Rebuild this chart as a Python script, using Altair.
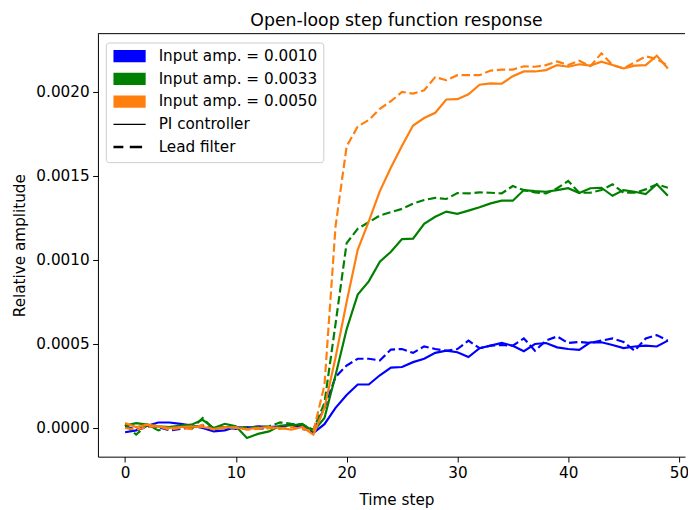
import altair as alt
import pandas as pd

time_steps = list(range(50))

# values in units of 1e-5
blue_pi = [-2.5, -1.4, 1.4, 3.3, 3.3, 2.5, 1.4, 0.0, -2.0, -1.4, 0.6, 0.0, 1.0, 0.6, 1.0, 2.0, 1.0, -2.9,
           2.3, 12.0, 19.6, 25.9, 25.9, 31.4, 35.9, 36.3, 39.2, 41.2, 44.7, 46.0, 45.1, 42.2, 47.5, 49.0,
           50.6, 49.0, 45.7, 50.0, 50.6, 48.0, 47.0, 46.5, 51.0, 51.0, 49.4, 47.6, 48.5, 49.0, 48.5, 52.0]
blue_lead = [1.0, -1.0, 0.6, 0.6, -1.4, -0.6, 0.6, 1.4, 0.0, 0.6, -0.6, 0.6, -0.6, 0.0, 0.6, 2.0, -0.6, -2.0,
             12.0, 30.4, 37.2, 41.2, 41.2, 40.2, 46.7, 47.0, 44.7, 48.6, 47.0, 46.0, 47.0, 52.0, 47.5, 49.0,
             49.4, 49.0, 53.3, 46.0, 52.0, 54.5, 50.6, 51.2, 50.6, 52.0, 53.3, 51.2, 46.0, 53.3, 55.3, 52.0]
green_pi = [1.4, 2.9, 2.0, 1.0, 0.6, 1.4, 2.0, 4.9, 0.0, 2.5, 1.0, -6.0, -3.5, -2.0, 1.5, 1.5, 2.5, -2.0,
            6.0, 31.4, 58.8, 79.4, 87.3, 99.0, 104.9, 112.4, 112.7, 121.5, 125.7, 128.8, 127.5, 129.4, 131.4, 133.7,
            135.3, 135.3, 141.6, 141.0, 140.6, 141.6, 142.7, 139.8, 142.7, 143.0, 138.2, 141.6, 140.6, 139.2, 145.1, 138.2]
green_lead = [2.0, -3.9, 2.0, -1.4, 0.6, 1.0, -0.6, 5.9, -0.6, 0.6, 0.0, 0.6, 0.6, 1.0, 3.3, 2.5, 2.0, -1.0,
              15.0, 62.0, 110.0, 118.6, 122.5, 126.5, 128.5, 130.4, 133.5, 135.7, 137.0, 136.3, 139.8, 139.6, 140.2, 140.0,
              139.6, 144.0, 141.6, 140.2, 139.6, 142.7, 147.0, 140.0, 140.0, 141.6, 145.0, 140.0, 140.0, 142.0, 145.0, 143.0]
orange_pi = [2.9, 0.6, 2.0, 1.0, 0.0, 0.6, 1.0, 0.6, -0.6, 0.6, 0.0, -0.6, 0.0, 0.6, 0.0, -1.0, 0.6, -3.9,
             12.0, 42.0, 75.0, 106.0, 123.0, 141.0, 155.0, 168.0, 180.0, 184.5, 187.6, 195.5, 195.7, 198.6, 204.3, 205.1,
             204.9, 209.4, 212.2, 212.2, 213.0, 216.0, 215.0, 216.5, 215.7, 218.0, 216.0, 214.0, 215.7, 216.0, 221.6, 214.0]
orange_lead = [0.0, -1.0, 0.6, 1.0, -1.0, 0.0, -0.6, 2.0, -1.0, 0.0, 0.6, -1.0, -0.6, 0.0, -0.6, 0.6, -0.6, -2.0,
               25.5, 120.0, 167.6, 179.4, 183.3, 190.0, 194.5, 200.0, 199.0, 201.0, 208.8, 207.0, 210.0, 210.0, 210.0, 212.7,
               213.3, 213.3, 215.3, 215.0, 216.0, 218.2, 216.0, 218.6, 215.3, 223.0, 216.0, 214.0, 217.6, 221.2, 219.6, 215.7]

series = [
    (blue_pi, "#0000ff", False),
    (blue_lead, "#0000ff", True),
    (green_pi, "#008000", False),
    (green_lead, "#008000", True),
    (orange_pi, "#ff7f0e", False),
    (orange_lead, "#ff7f0e", True),
]

legend_labels = ["Input amp. = 0.0010", "Input amp. = 0.0033", "Input amp. = 0.0050",
                 "PI controller", "Lead filter"]
legend_colors = ["#0000ff", "#008000", "#ff7f0e", "#000000", "#000000"]
patch_path = "M-1,-1.03H4.43V1.03H-1Z"
solid_path = "M-1,-0.1H4.43V0.1H-1Z"
dashed_path = "M-1,-0.22H0.67V0.22H-1Z M1.75,-0.22H3.83V0.22H1.75Z"
legend_shapes = [patch_path, patch_path, patch_path, solid_path, dashed_path]

y_top = 0.002347
# the reference axes run to x = 51.45 but are cropped by the image edge near x = 50.55
x_scale = alt.Scale(domain=[-2.45, 50.55], nice=False, zero=False)
y_scale = alt.Scale(domain=[-0.0001706, y_top], nice=False, zero=False)

x_axis = alt.Axis(title="Time step", values=[0, 10, 20, 30, 40, 50], format="d", titlePadding=12,
                  titleX=302, titleAlign="center")
y_axis = alt.Axis(title="Relative amplitude", values=[0, 0.0005, 0.001, 0.0015, 0.002], format=".4f",
                  titlePadding=9)

layers = []
for vals, color, dashed in series:
    df = pd.DataFrame({"t": time_steps, "v": [v / 1e5 for v in vals]})
    mark_kwargs = dict(color=color, strokeWidth=2.2)
    if dashed:
        mark_kwargs["strokeDash"] = [8.5, 3.7]
    layers.append(
        alt.Chart(df).mark_line(**mark_kwargs).encode(
            x=alt.X("t:Q", scale=x_scale, axis=x_axis),
            y=alt.Y("v:Q", scale=y_scale, axis=y_axis),
        )
    )

# top spine: a rule at the top of the y domain, across the full width
top_spine = alt.Chart(pd.DataFrame({"v": [y_top]})).mark_rule(color="black", strokeWidth=1).encode(
    y=alt.Y("v:Q", scale=y_scale, axis=y_axis),
)

legend_df = pd.DataFrame({"entry": legend_labels})
legend_layer = alt.Chart(legend_df).transform_filter("false").mark_point(filled=True, opacity=1).encode(
    color=alt.Color("entry:N", scale=alt.Scale(domain=legend_labels, range=legend_colors),
                    legend=alt.Legend(title=None, orient="none", legendX=8, legendY=9)),
    shape=alt.Shape("entry:N", scale=alt.Scale(domain=legend_labels, range=legend_shapes),
                    legend=alt.Legend(title=None, orient="none", legendX=8, legendY=9)),
)

chart = alt.layer(*layers, top_spine, legend_layer).properties(
    width=594,
    height=428,
    autosize=alt.AutoSizeParams(type="none"),
    padding={"left": 91, "top": 23, "right": 3, "bottom": 51},
    title=alt.Title("Open-loop step function response", fontSize=17.5, fontWeight="normal",
                    font="DejaVu Sans", color="black", offset=4, anchor="middle", dx=5),
).configure_view(
    stroke=None
).configure_axis(
    grid=False,
    labelFont="DejaVu Sans", labelFontSize=15.4, labelColor="black",
    titleFont="DejaVu Sans", titleFontSize=15.4, titleFontWeight="normal", titleColor="black",
    domainColor="black", tickColor="black", tickSize=5.4, labelPadding=3.5,
).configure_legend(
    labelFont="DejaVu Sans", labelFontSize=15.4, labelColor="black", labelLimit=400,
    symbolSize=144, symbolStrokeWidth=0, labelOffset=32, rowPadding=6,
    padding=6, strokeColor="#cccccc", fillColor="white", cornerRadius=3,
)

chart.save("out.html", embed_options={"renderer": "svg", "actions": False})
